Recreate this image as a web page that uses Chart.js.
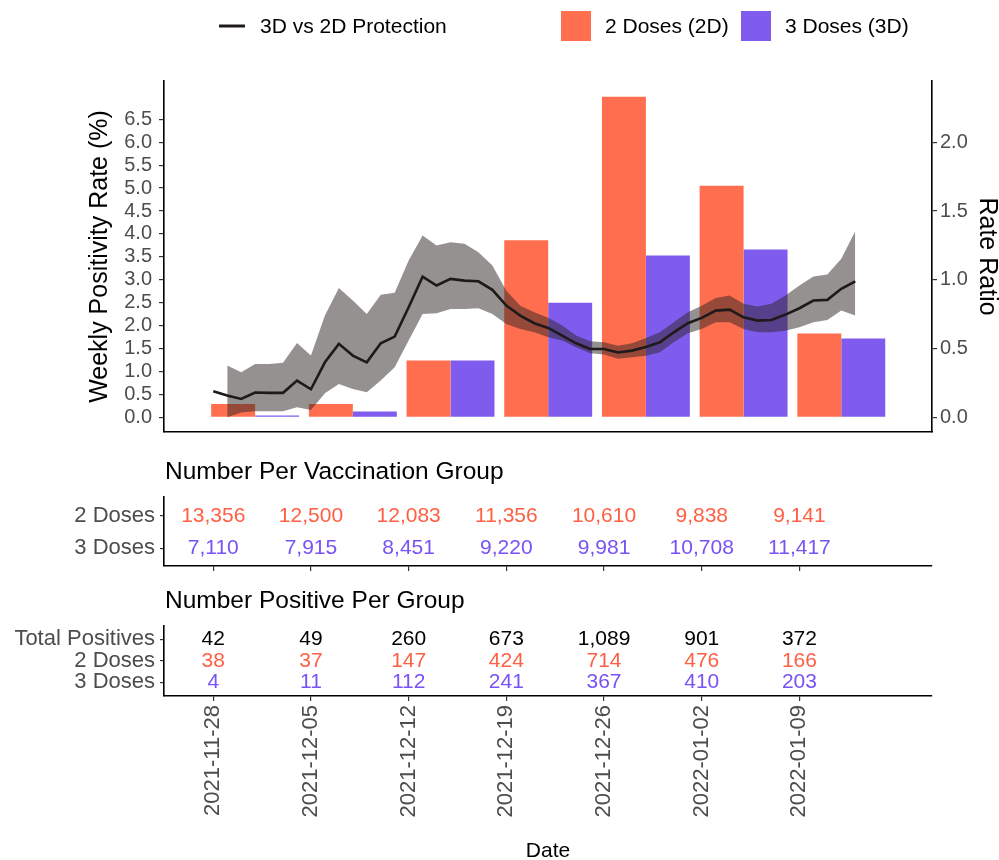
<!DOCTYPE html>
<html>
<head>
<meta charset="utf-8">
<title>3D vs 2D protection</title>
<script src="https://cdn.jsdelivr.net/npm/chart.js@4.4.1/dist/chart.umd.min.js"></script>
<style>
  html, body { margin: 0; padding: 0; background: #fff; }
  .panel { position: absolute; left: 0; width: 999px; }
  #mainBox { top: 0; height: 445px; }
  #groupBox { top: 445px; height: 135px; }
  #posBox { top: 580px; height: 280px; }
</style>
</head>
<body>
<div class="panel" id="mainBox"><canvas id="main"></canvas></div>
<div class="panel" id="groupBox"><canvas id="groups"></canvas></div>
<div class="panel" id="posBox"><canvas id="positives"></canvas></div>
<script>
// week start dates, one per bar group / table column
const weeks = ['2021-11-28', '2021-12-05', '2021-12-12', '2021-12-19', '2021-12-26', '2022-01-02', '2022-01-09'];

// weekly positivity rate (%)
const rate2D = [0.29, 0.29, 1.24, 3.86, 6.99, 5.05, 1.83];
const rate3D = [0.04, 0.125, 1.24, 2.50, 3.53, 3.66, 1.72];

// tables
const count2D = [13356, 12500, 12083, 11356, 10610, 9838, 9141];
const count3D = [7110, 7915, 8451, 9220, 9981, 10708, 11417];
const posTotal = [42, 49, 260, 673, 1089, 901, 372];
const pos2D = [38, 37, 147, 424, 714, 476, 166];
const pos3D = [4, 11, 112, 241, 367, 410, 203];

// daily rate ratio, day 0 = 2021-11-28
const ratio = [0.189, 0.158, 0.134, 0.180, 0.178, 0.178, 0.267, 0.204, 0.400, 0.534,
  0.449, 0.400, 0.538, 0.587, 0.800, 1.023, 0.958, 1.006, 0.994, 0.989,
  0.927, 0.812, 0.740, 0.684, 0.650, 0.594, 0.538, 0.497, 0.497, 0.471,
  0.485, 0.512, 0.545, 0.618, 0.684, 0.723, 0.776, 0.783, 0.727, 0.703,
  0.708, 0.747, 0.793, 0.849, 0.854, 0.934, 0.989];
// confidence band, starts on day 1
const ratioLow = [0.000, 0.036, 0.044, 0.044, 0.044, 0.073, 0.054, 0.175, 0.243,
  0.206, 0.182, 0.267, 0.364, 0.558, 0.752, 0.756, 0.788, 0.788, 0.793,
  0.752, 0.679, 0.643, 0.618, 0.582, 0.558, 0.509, 0.465, 0.456, 0.425,
  0.436, 0.448, 0.473, 0.545, 0.611, 0.643, 0.691, 0.691, 0.643, 0.618,
  0.618, 0.630, 0.655, 0.691, 0.708, 0.776, 0.740];
const ratioHigh = [0.376, 0.327, 0.388, 0.388, 0.396, 0.541, 0.449, 0.740, 0.941,
  0.849, 0.752, 0.892, 0.905, 1.140, 1.321, 1.249, 1.273, 1.261, 1.200,
  1.103, 0.921, 0.812, 0.764, 0.723, 0.667, 0.594, 0.553, 0.545, 0.521,
  0.538, 0.576, 0.618, 0.691, 0.764, 0.812, 0.868, 0.885, 0.825, 0.805,
  0.825, 0.885, 0.958, 1.023, 1.038, 1.152, 1.353];

const leftTicks = [0, 0.5, 1, 1.5, 2, 2.5, 3, 3.5, 4, 4.5, 5, 5.5, 6, 6.5];
const rightTicks = [0, 0.5, 1, 1.5, 2];

const RED = '#FF6E4F';
const PURPLE = '#7F5CEE';
const RED_TEXT = '#FF5F43';
const PURPLE_TEXT = '#7752F5';
const RIBBON = 'rgba(45, 35, 35, 0.5)';
const GREY = '#4D4D4D';

Chart.defaults.font.family = '"Liberation Sans", Arial, sans-serif';
Chart.defaults.color = GREY;
Chart.defaults.animation = false;
Chart.defaults.responsive = true;
Chart.defaults.maintainAspectRatio = false;
Chart.defaults.plugins.legend.display = false;
Chart.defaults.plugins.tooltip.enabled = false;

// x is in days since the first week start
const X_MIN = -3.53;
const X_MAX = 51.5;
const weekTicks = (axis) => { axis.ticks = weeks.map((w, i) => ({ value: i * 7 })); };
const axisLine = { display: true, color: '#000', width: 1.6 };
const tickMarks = { drawOnChartArea: false, tickLength: 5, color: '#333', lineWidth: 1.2 };

// vertical axes: fixed width, and no extra room asked for the end labels
const fixWidth = (w) => (axis) => {
  axis.width = w;
  axis.paddingTop = 0;
  axis.paddingBottom = 0;
};

const legendKeys = {
  id: 'legendKeys',
  afterDraw(chart) {
    const { ctx } = chart;
    const ds = chart.data.datasets;
    ctx.save();
    ctx.font = '21px "Liberation Sans", Arial, sans-serif';
    ctx.textBaseline = 'middle';
    ctx.fillStyle = '#000';
    ctx.strokeStyle = ds[4].borderColor;
    ctx.lineWidth = 3;
    ctx.beginPath();
    ctx.moveTo(219, 26);
    ctx.lineTo(245, 26);
    ctx.stroke();
    ctx.fillText(ds[4].label, 260, 27);
    ctx.fillStyle = ds[0].backgroundColor;
    ctx.fillRect(561, 11, 30, 30);
    ctx.fillStyle = ds[1].backgroundColor;
    ctx.fillRect(741, 11, 30, 30);
    ctx.fillStyle = '#000';
    ctx.fillText(ds[0].label, 605, 27);
    ctx.fillText(ds[1].label, 785, 27);
    ctx.restore();
  }
};

new Chart(document.getElementById('main'), {
  type: 'bar',
  data: {
    datasets: [
      {
        label: '2 Doses (2D)',
        data: rate2D.map((v, i) => ({ x: i * 7 + 3, y: v })),
        backgroundColor: RED, yAxisID: 'y', order: 3,
        barPercentage: 1, categoryPercentage: 0.9
      },
      {
        label: '3 Doses (3D)',
        data: rate3D.map((v, i) => ({ x: i * 7 + 3, y: v })),
        backgroundColor: PURPLE, yAxisID: 'y', order: 3,
        barPercentage: 1, categoryPercentage: 0.9
      },
      {
        type: 'line', label: 'lower',
        data: ratioLow.map((v, i) => ({ x: i + 1, y: v })),
        yAxisID: 'y2', borderWidth: 0, borderColor: 'transparent',
        pointRadius: 0, fill: false, order: 2
      },
      {
        type: 'line', label: 'upper',
        data: ratioHigh.map((v, i) => ({ x: i + 1, y: v })),
        yAxisID: 'y2', borderWidth: 0, borderColor: 'transparent',
        backgroundColor: RIBBON, pointRadius: 0, fill: '-1', order: 2
      },
      {
        type: 'line', label: '3D vs 2D Protection',
        data: ratio.map((v, i) => ({ x: i, y: v })),
        yAxisID: 'y2', borderColor: '#1E1A1A', borderWidth: 2.6,
        pointRadius: 0, tension: 0, fill: false, order: 1
      }
    ]
  },
  options: {
    layout: { padding: { top: 81, left: 0, right: 0, bottom: 0 } },
    scales: {
      x: {
        type: 'linear', min: X_MIN, max: X_MAX, offset: false,
        afterBuildTicks: weekTicks,
        afterFit: (axis) => { axis.height = 13; },
        ticks: { display: false },
        grid: { display: false, offset: false },
        border: axisLine
      },
      y: {
        type: 'linear', position: 'left', min: -0.32, max: 7.335,
        afterBuildTicks: (axis) => { axis.ticks = leftTicks.map(v => ({ value: v })); },
        afterFit: fixWidth(164),
        ticks: { callback: v => v.toFixed(1), color: GREY, font: { size: 20 }, padding: 7 },
        grid: tickMarks,
        border: axisLine,
        title: {
          display: true, text: 'Weekly Positivity Rate (%)', color: '#000',
          font: { size: 25, lineHeight: 1.2 }, padding: { top: 85, bottom: 0 }
        }
      },
      y2: {
        type: 'linear', position: 'right', min: -0.32 / 3, max: 7.335 / 3,
        afterBuildTicks: (axis) => { axis.ticks = rightTicks.map(v => ({ value: v })); },
        afterFit: fixWidth(67),
        ticks: { callback: v => v.toFixed(1), color: GREY, font: { size: 20 }, padding: 3 },
        grid: tickMarks,
        border: axisLine,
        title: {
          display: true, text: 'Rate Ratio', color: '#000',
          font: { size: 25, lineHeight: 1 }, padding: { top: 0, bottom: 0 }
        }
      }
    }
  },
  plugins: [legendKeys]
});

// text tables: each row is a dataset of invisible points, the numbers are written at the points
const panelTitle = {
  id: 'panelTitle',
  afterDraw(chart, args, opts) {
    const { ctx, chartArea } = chart;
    ctx.save();
    ctx.font = '24.5px "Liberation Sans", Arial, sans-serif';
    ctx.fillStyle = '#000';
    ctx.textBaseline = 'middle';
    ctx.fillText(opts.text, chartArea.left + 1, chartArea.top - 24);
    ctx.restore();
  }
};

const cellText = {
  id: 'cellText',
  afterDatasetsDraw(chart) {
    const { ctx } = chart;
    ctx.save();
    ctx.font = '21px "Liberation Sans", Arial, sans-serif';
    ctx.textAlign = 'center';
    ctx.textBaseline = 'middle';
    chart.data.datasets.forEach((ds, i) => {
      ctx.fillStyle = ds.textColor;
      chart.getDatasetMeta(i).data.forEach((pt, j) => {
        ctx.fillText(ds.data[j].n.toLocaleString('en-US'), pt.x, pt.y);
      });
    });
    ctx.restore();
  }
};

function rowSet(label, values, row, color) {
  return {
    label: label, textColor: color,
    data: values.map((n, i) => ({ x: i * 7, y: row, n: n })),
    pointRadius: 0, showLine: false
  };
}

function tableChart(id, title, rows, yMin, yMax, padTop, xOptions) {
  const rowNames = rows.map(r => r.label);
  return new Chart(document.getElementById(id), {
    type: 'scatter',
    data: { datasets: rows },
    options: {
      layout: { padding: { top: padTop, right: 67, left: 0, bottom: 0 } },
      scales: {
        x: Object.assign({
          type: 'linear', min: X_MIN, max: X_MAX, offset: false,
          afterBuildTicks: weekTicks,
          grid: Object.assign({ offset: false }, tickMarks),
          border: axisLine
        }, xOptions),
        y: {
          type: 'linear', min: yMin, max: yMax,
          afterBuildTicks: (axis) => { axis.ticks = rows.map(r => ({ value: r.data[0].y })); },
          afterFit: fixWidth(164),
          ticks: {
            callback: v => rowNames[rows.length - v],
            color: GREY, font: { size: 22 }, padding: 5
          },
          grid: Object.assign({}, tickMarks, { tickLength: 4 }),
          border: axisLine
        }
      },
      plugins: { panelTitle: { text: title } }
    },
    plugins: [panelTitle, cellText]
  });
}

tableChart('groups', 'Number Per Vaccination Group', [
  rowSet('2 Doses', count2D, 2, RED_TEXT),
  rowSet('3 Doses', count3D, 1, PURPLE_TEXT)
], 0.457, 2.583, 51.7, {
  afterFit: (axis) => { axis.height = 14; },
  ticks: { display: false }
});

tableChart('positives', 'Number Positive Per Group', [
  rowSet('Total Positives', posTotal, 3, '#000'),
  rowSet('2 Doses', pos2D, 2, RED_TEXT),
  rowSet('3 Doses', pos3D, 1, PURPLE_TEXT)
], 0.363, 3.633, 45.7, {
  afterFit: (axis) => { axis.height = 164; },
  ticks: {
    callback: (v) => weeks[Math.round(v / 7)],
    autoSkip: false, minRotation: 90, maxRotation: 90,
    color: GREY, font: { size: 22 }, padding: 4
  },
  title: {
    display: true, text: 'Date', color: '#000',
    font: { size: 21, lineHeight: 0.8 }, padding: { top: 0, bottom: 0 }
  }
});
</script>
</body>
</html>
